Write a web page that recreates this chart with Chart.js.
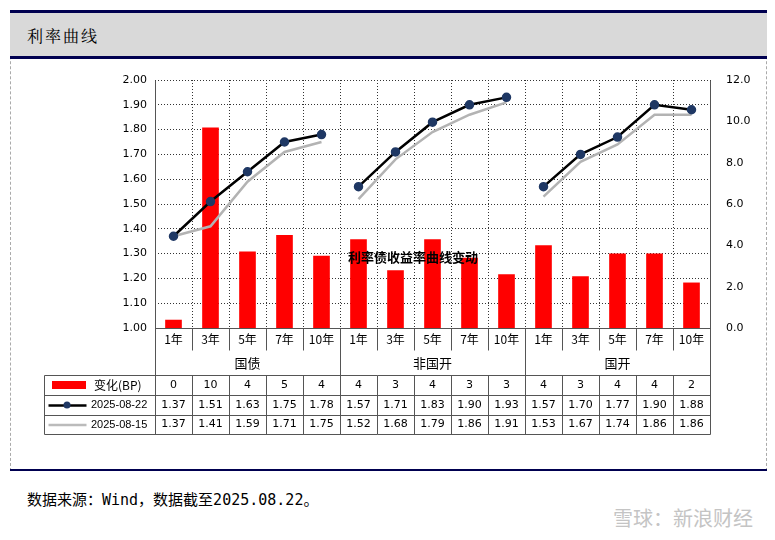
<!DOCTYPE html>
<html lang="zh-CN">
<head>
<meta charset="UTF-8">
<script src="https://cdn.jsdelivr.net/npm/chart.js"></script>
<style>
  * { margin: 0; padding: 0; box-sizing: border-box; }
  body { width: 775px; height: 540px; background: #fff; position: relative; font-family: 'Noto Sans CJK SC', sans-serif; overflow: hidden; }
  .frame { position: absolute; left: 10px; top: 11px; width: 757px; height: 460px; border-left: 1px dashed #aaa; border-right: 1px dashed #aaa; }
  .head { position: absolute; left: 10px; top: 10px; width: 757px; height: 49px; background: #d9d9d9; border-top: 3px solid #000050; border-bottom: 3px solid #000050; }
  .head span { position: absolute; left: 17px; top: 11px; font-size: 16px; font-family: 'Noto Serif CJK SC', 'Noto Sans CJK SC', serif; letter-spacing: 2px; }
  .bottomline { position: absolute; left: 10px; top: 469px; width: 757px; border-top: 2px solid #000050; }
  .foot { position: absolute; left: 27px; top: 488px; font-size: 15px; font-family: 'DejaVu Sans Mono', 'Noto Sans CJK SC', monospace; }
  .wm { position: absolute; right: 22px; top: 503px; font-size: 20px; color: #c4c4c4; }
  #wrap { position: absolute; left: 10px; top: 60px; width: 755px; height: 405px; }
</style>
</head>
<body>
<div class="frame"></div>
<div class="head"><span>利率曲线</span></div>
<div id="wrap"><canvas id="c"></canvas></div>
<div class="bottomline"></div>
<div class="foot">数据来源：Wind，数据截至2025.08.22。</div>
<div class="wm">雪球：新浪财经</div>
<script>
const terms = ['1年','3年','5年','7年','10年','1年','3年','5年','7年','10年','1年','3年','5年','7年','10年'];
const groups = ['国债','非国开','国开'];
const changeBP = [0,10,4,5,4,4,3,4,3,3,4,3,4,4,2];
const barHeights = [0.4,9.7,3.7,4.5,3.5,4.3,2.8,4.3,3.4,2.6,4.0,2.5,3.6,3.6,2.2];
const y0822 = [1.37,1.51,1.63,1.75,1.78,1.57,1.71,1.83,1.90,1.93,1.57,1.70,1.77,1.90,1.88];
const y0815 = [1.37,1.41,1.59,1.71,1.75,1.52,1.68,1.79,1.86,1.91,1.53,1.67,1.74,1.86,1.86];

const breakSeg = (col) => ctx => (ctx.p0DataIndex % 5 === 4) ? 'rgba(0,0,0,0)' : col;

const tablePlugin = {
  id: 'tbl',
  afterDraw(chart) {
    const c = chart.ctx, a = chart.chartArea;
    const w = (a.right - a.left) / 15;
    const tx = 34, r0 = a.bottom, r1 = a.bottom + 22, r2 = a.bottom + 47, r3 = r2 + 20, r4 = r3 + 20, r5 = r4 + 19;
    c.save();
    c.strokeStyle = '#555'; c.lineWidth = 1;
    c.fillStyle = '#000'; c.textAlign = 'center'; c.textBaseline = 'middle';
    c.font = '12px "Noto Sans CJK SC"';
    const line = (x1,y1,x2,y2) => { c.beginPath(); c.moveTo(x1+0.5,y1+0.5); c.lineTo(x2+0.5,y2+0.5); c.stroke(); };
    line(a.left, a.top, a.left, r5);
    line(a.right, a.top, a.right, r5);
    line(a.left, r0, a.right, r0);
    for (let i = 0; i < 15; i++) {
      const x = a.left + w * i;
      c.fillText(terms[i], x + w / 2, r0 + 11);
      if (i > 0) line(x, r0, x, i % 5 === 0 ? r5 : r1);
      if (i > 0 && i % 5 !== 0) line(x, r2, x, r5);
    }
    c.font = '13px "Noto Sans CJK SC"';
    for (let g = 0; g < 3; g++) c.fillText(groups[g], a.left + w * (5 * g + 2.5), r1 + 13);
    [r2, r3, r4, r5].forEach(y => line(tx, y, a.right, y));
    line(tx, r2, tx, r5);
    c.font = '11px "DejaVu Sans"';
    for (let i = 0; i < 15; i++) {
      const cx = a.left + w * (i + 0.5);
      c.fillText(String(changeBP[i]), cx, (r2 + r3) / 2);
      c.fillText(y0822[i].toFixed(2), cx, (r3 + r4) / 2);
      c.fillText(y0815[i].toFixed(2), cx, (r4 + r5) / 2);
    }
    c.fillStyle = '#ff0000'; c.fillRect(tx + 8, (r2 + r3) / 2 - 4, 34, 8);
    c.strokeStyle = '#000'; c.lineWidth = 2.5; line(tx + 4, (r3 + r4) / 2, tx + 42, (r3 + r4) / 2);
    c.fillStyle = '#1f3864'; c.beginPath(); c.arc(tx + 23, (r3 + r4) / 2, 3.5, 0, Math.PI * 2); c.fill();
    c.strokeStyle = '#bbb'; line(tx + 4, (r4 + r5) / 2, tx + 42, (r4 + r5) / 2);
    c.fillStyle = '#000'; c.textAlign = 'left';
    c.font = '12px "Noto Sans CJK SC"'; c.fillText('变化(BP)', tx + 50, (r2 + r3) / 2);
    c.font = '11px "Liberation Sans"';
    c.fillText('2025-08-22', tx + 47, (r3 + r4) / 2);
    c.fillText('2025-08-15', tx + 47, (r4 + r5) / 2);
    c.textAlign = 'center'; c.font = 'bold 13px "Noto Sans CJK SC"';
    c.fillText('利率债收益率曲线变动', 403, 197);
    c.restore();
  }
};

new Chart(document.getElementById('c'), {
  data: {
    labels: terms,
    datasets: [
      { type: 'line', label: '2025-08-22', data: y0822, yAxisID: 'y', borderColor: '#000', borderWidth: 2.5,
        pointBackgroundColor: '#1f3864', pointBorderColor: '#1f3864', pointRadius: 3.5,
        segment: { borderColor: breakSeg('#000') }, order: 1 },
      { type: 'line', label: '2025-08-15', data: y0815, yAxisID: 'y', borderColor: '#b3b3b3', borderWidth: 2.5,
        pointRadius: 0, segment: { borderColor: breakSeg('#b3b3b3') }, order: 2 },
      { type: 'bar', label: '变化(BP)', data: barHeights, yAxisID: 'y1', backgroundColor: '#ff0000',
        barPercentage: 0.45, categoryPercentage: 1, order: 3 }
    ]
  },
  options: {
    animation: false, responsive: true, maintainAspectRatio: false,
    layout: { padding: { top: 20, bottom: 137, left: 0, right: 0 } },
    plugins: { legend: { display: false }, tooltip: { enabled: false } },
    scales: {
      x: { display: true, offset: true, ticks: { display: false },
           grid: { offset: true, color: '#333', drawTicks: false },
           border: { display: false, dash: [1, 2] } },
      y: { position: 'left', min: 1, max: 2,
           ticks: { stepSize: 0.1, callback: v => v.toFixed(2), color: '#000', font: { size: 11, family: 'DejaVu Sans' }, padding: 8 },
           grid: { color: '#333', drawTicks: false },
           border: { display: false, dash: [1, 2] },
           afterFit: s => { s.width = 145; } },
      y1: { position: 'right', min: 0, max: 12,
           ticks: { stepSize: 2, callback: v => v.toFixed(1), color: '#000', font: { size: 11, family: 'DejaVu Sans' }, padding: 8 },
           grid: { display: false }, border: { display: false },
           afterFit: s => { s.width = 55; } }
    }
  },
  plugins: [tablePlugin]
});
</script>
</body>
</html>
